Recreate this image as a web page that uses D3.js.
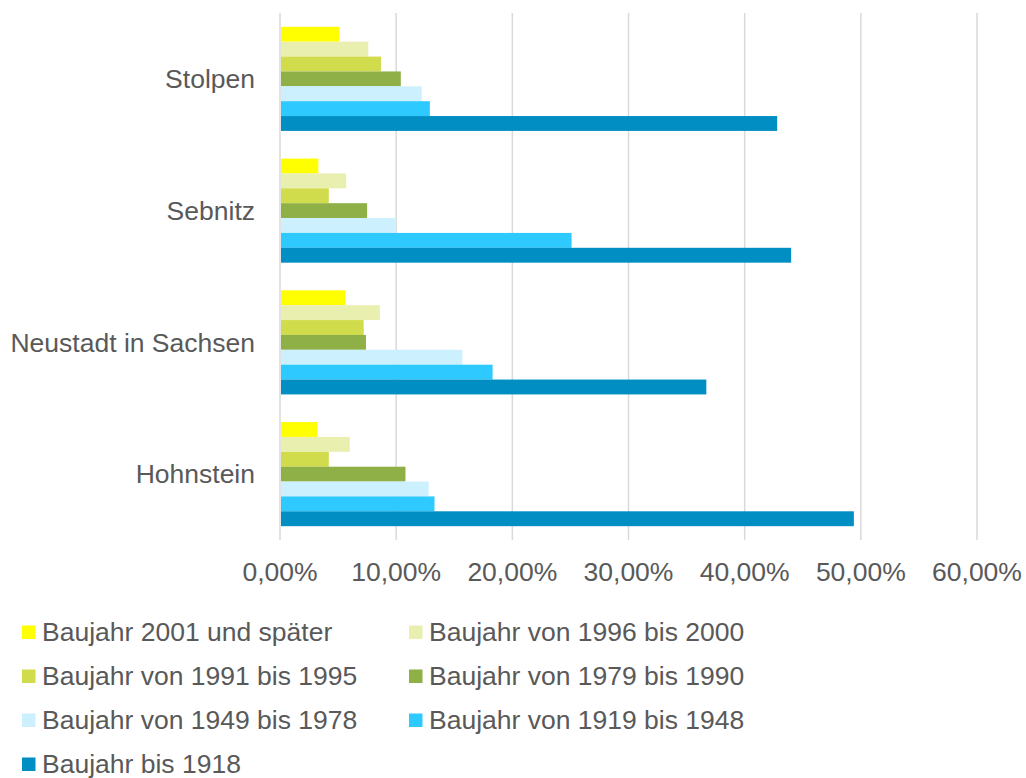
<!DOCTYPE html>
<html>
<head>
<meta charset="utf-8">
<script src="https://cdn.jsdelivr.net/npm/d3@7"></script>
<style>
  body { margin: 0; background: #fff; }
  text { font-family: "Liberation Sans", Arial, sans-serif; fill: #595959; }
</style>
</head>
<body>
<svg id="chart" width="1026" height="778"></svg>
<script>
// categories, top to bottom
var towns = ["Stolpen", "Sebnitz", "Neustadt in Sachsen", "Hohnstein"];

// series (legend order, top bar first inside each group)
var seriesNames = [
  "Baujahr 2001 und später",
  "Baujahr von 1996 bis 2000",
  "Baujahr von 1991 bis 1995",
  "Baujahr von 1979 bis 1990",
  "Baujahr von 1949 bis 1978",
  "Baujahr von 1919 bis 1948",
  "Baujahr bis 1918"
];
var seriesColors = ["#ffff00", "#e9efaf", "#d0dc4b", "#8fb047", "#ccf0fe", "#2ec9ff", "#008ec3"];

// values per series, in order of towns (share, 0..1)
var ab2001    = [0.051, 0.033, 0.056, 0.032];
var v1996     = [0.076, 0.057, 0.086, 0.060];
var v1991     = [0.087, 0.042, 0.072, 0.042];
var v1979     = [0.104, 0.075, 0.074, 0.108];
var v1949     = [0.122, 0.099, 0.157, 0.128];
var v1919     = [0.129, 0.251, 0.183, 0.133];
var bis1918   = [0.428, 0.440, 0.367, 0.494];
var seriesValues = [ab2001, v1996, v1991, v1979, v1949, v1919, bis1918];

var xTicks = [0, 0.1, 0.2, 0.3, 0.4, 0.5, 0.6];

var svg = d3.select("#chart");
var plotLeft = 280, plotRight = 977, plotTop = 13, plotBottom = 540;

var de = d3.formatLocale({decimal: ",", thousands: ".", grouping: [3], currency: ["", " €"]});
var fmt = de.format(".2%");

var x = d3.scaleLinear().domain([0, 0.6]).range([plotLeft, plotRight]);
var y = d3.scaleBand().domain(towns).range([plotTop, plotBottom]).padding(0);
var yInner = d3.scaleBand().domain(d3.range(seriesNames.length))
    .range([0, y.bandwidth()]).paddingInner(0).paddingOuter(0.93);

// gridlines
svg.append("g").selectAll("line")
  .data(xTicks)
  .enter().append("line")
    .attr("x1", function(d) { return x(d); })
    .attr("x2", function(d) { return x(d); })
    .attr("y1", plotTop)
    .attr("y2", plotBottom)
    .attr("stroke", "#d9d9d9")
    .attr("stroke-width", 1.5);

// bars
var groups = svg.append("g").selectAll("g")
  .data(towns)
  .enter().append("g")
    .attr("transform", function(d) { return "translate(0," + y(d) + ")"; });

groups.selectAll("rect")
  .data(function(t, ti) {
    return seriesValues.map(function(vals, si) { return {s: si, v: vals[ti]}; });
  })
  .enter().append("rect")
    .attr("x", x(0) + 1)
    .attr("y", function(d) { return yInner(d.s); })
    .attr("width", function(d) { return x(d.v) - x(0) - 1; })
    .attr("height", yInner.bandwidth())
    .attr("fill", function(d) { return seriesColors[d.s]; });

// category labels
svg.append("g").selectAll("text")
  .data(towns)
  .enter().append("text")
    .attr("x", 255)
    .attr("y", function(d) { return y(d) + y.bandwidth() / 2; })
    .attr("dy", "0.35em")
    .attr("text-anchor", "end")
    .attr("font-size", 26.5)
    .text(function(d) { return d; });

// x tick labels
svg.append("g").selectAll("text")
  .data(xTicks)
  .enter().append("text")
    .attr("x", function(d) { return x(d); })
    .attr("y", 572)
    .attr("dy", "0.35em")
    .attr("text-anchor", "middle")
    .attr("font-size", 26.5)
    .text(function(d) { return fmt(d); });

// legend, two columns
var legend = svg.append("g").selectAll("g")
  .data(seriesNames)
  .enter().append("g")
    .attr("transform", function(d, i) {
      return "translate(" + (i % 2 === 0 ? 22 : 409) + "," + (632 + Math.floor(i / 2) * 44) + ")";
    });

legend.append("rect")
    .attr("x", 0)
    .attr("y", -6.5)
    .attr("width", 13.5)
    .attr("height", 13.5)
    .attr("fill", function(d, i) { return seriesColors[i]; });

legend.append("text")
    .attr("x", 20)
    .attr("y", 0)
    .attr("dy", "0.35em")
    .attr("font-size", 26.5)
    .text(function(d) { return d; });
</script>
</body>
</html>
